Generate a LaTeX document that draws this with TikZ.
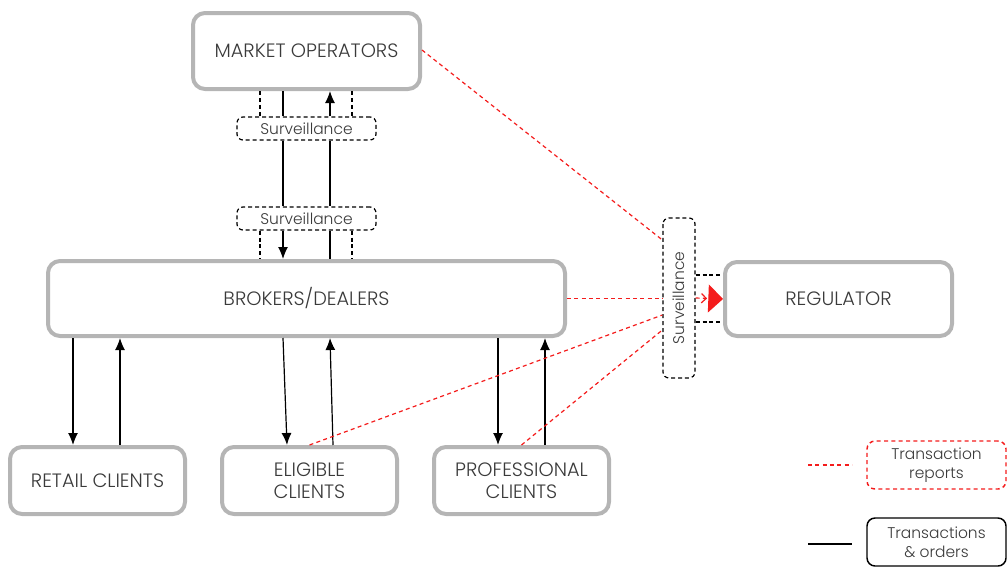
\documentclass[tikz,border=0pt]{standalone}
\usepackage{fontspec}
\setmainfont{Poppins}[UprightFont=* Light]
\usetikzlibrary{arrows.meta}
\definecolor{boxgray}{HTML}{B5B5B5}
\definecolor{txt}{HTML}{3A3A3A}
\definecolor{rep}{HTML}{F41C1C}
\begin{document}
\begin{tikzpicture}[x=0.75pt,y=-0.75pt,
  entity/.style={draw=boxgray,line width=3pt,rounded corners=9pt,fill=white,
    text=txt,font=\fontsize{14.5}{16.5}\selectfont,align=center,inner sep=0pt},
  surv/.style={draw=black,line width=0.9pt,dash pattern=on 3pt off 2.2pt,
    rounded corners=4.5pt,fill=white,text=txt,font=\fontsize{11.6}{13}\selectfont,
    inner sep=0pt,minimum width=104.25pt,minimum height=17.25pt},
  flow/.style={draw=black,line width=0.9pt},
  arr/.style={flow,-{Latex[length=9pt,width=7.5pt]}},
  survlink/.style={draw=black,line width=0.9pt,dash pattern=on 3pt off 2.2pt},
  report/.style={draw=rep,line width=0.9pt,dash pattern=on 3pt off 2.5pt},
  legendbox/.style={rounded corners=6pt,line width=1.1pt,text=txt,
    font=\fontsize{11.6}{14.5}\selectfont,align=center,inner sep=0pt,
    minimum width=104.25pt,minimum height=36pt}]
\useasboundingbox (0,0) rectangle (1008,568);

% main parties
\node[entity,minimum width=170.25pt,minimum height=57pt] (mo) at (306.5,51) {MARKET OPERATORS};
\node[entity,minimum width=387.75pt,minimum height=56.25pt] (bd) at (306.5,298.5) {BROKERS/DEALERS};
\node[entity,minimum width=170.25pt,minimum height=55.5pt] (reg) at (838.5,299) {REGULATOR};
\node[entity,minimum width=131.25pt,minimum height=50.25pt] (retail) at (97.5,480.5) {RETAIL CLIENTS};
\node[entity,minimum width=131.25pt,minimum height=50.25pt] (elig) at (309.5,480.5) {ELIGIBLE\\CLIENTS};
\node[entity,minimum width=131.25pt,minimum height=50.25pt] (prof) at (521.5,480.5) {PROFESSIONAL\\CLIENTS};

% surveillance layers
\node[surv] (sv1) at (306.5,128.5) {Surveillance};
\node[surv] (sv2) at (306.5,218.5) {Surveillance};
\node[surv,rotate=90,minimum width=120pt,minimum height=24pt] (sv3) at (679,298) {Surveillance};

% market operators <-> surveillance
\draw[survlink] (mo.south -| 260,0) -- (sv1.north -| 260,0);
\draw[survlink] (mo.south -| 352,0) -- (sv1.north -| 352,0);
\draw[flow] (mo.south -| 283,0) -- (sv1.north -| 283,0);
\draw[arr] (sv1.north -| 330,0) -- (mo.south -| 330,0);
\draw[flow] (sv1.south -| 283,0) -- (sv2.north -| 283,0);
\draw[flow] (sv1.south -| 330,0) -- (sv2.north -| 330,0);
% surveillance <-> brokers/dealers
\draw[survlink] (sv2.south -| 260,0) -- (bd.north -| 260,0);
\draw[survlink] (sv2.south -| 352,0) -- (bd.north -| 352,0);
\draw[arr] (sv2.south -| 283,0) -- (bd.north -| 283,0);
\draw[flow] (sv2.south -| 330,0) -- (bd.north -| 330,0);

% brokers/dealers <-> clients
\draw[arr] (bd.south -| 73,0) -- (retail.north -| 73,0);
\draw[arr] (retail.north -| 120,0) -- (bd.south -| 120,0);
\draw[arr] (bd.south -| 283,0) -- (elig.north -| 287,0);
\draw[arr] (elig.north -| 333,0) -- (bd.south -| 330,0);
\draw[arr] (bd.south -| 498,0) -- (prof.north -| 498,0);
\draw[arr] (prof.north -| 545,0) -- (bd.south -| 545,0);

% transaction reports (sv3 is rotated: its north anchor faces left)
\draw[report] (mo.east) ++(0,-1) -- (sv3.north |- 0,240);
\draw[report] (bd.east) -- (sv3.north |- bd.east);
\draw[report] (elig.north) -- (sv3.north |- 0,315);
\draw[report] (prof.north) -- (sv3.north |- 0,330);

% surveillance -> regulator
\draw[survlink] (sv3.south |- 0,275) -- (reg.west |- 0,275);
\draw[survlink] (sv3.south |- 0,322) -- (reg.west |- 0,322);
\draw[report,-{Straight Barb[length=3.5pt,width=7pt,sep=1pt]Triangle[length=11pt,width=21pt,fill=rep]}]
  (sv3.south) -- (reg.west);

% legend
\coordinate (l1a) at (808,465);
\coordinate (l1b) at (852,465);
\coordinate (l2a) at (808,544);
\coordinate (l2b) at (852,544);
\draw[report] (l1a) -- (l1b);
\draw[flow] (l2a) -- (l2b);
\node[legendbox,draw=rep,dash pattern=on 3pt off 2.5pt] (lrep) at (936.5,465) {Transaction\\reports};
\node[legendbox,draw=black] (ltx) at (936.5,542) {Transactions\\\& orders};
\end{tikzpicture}
\end{document}
